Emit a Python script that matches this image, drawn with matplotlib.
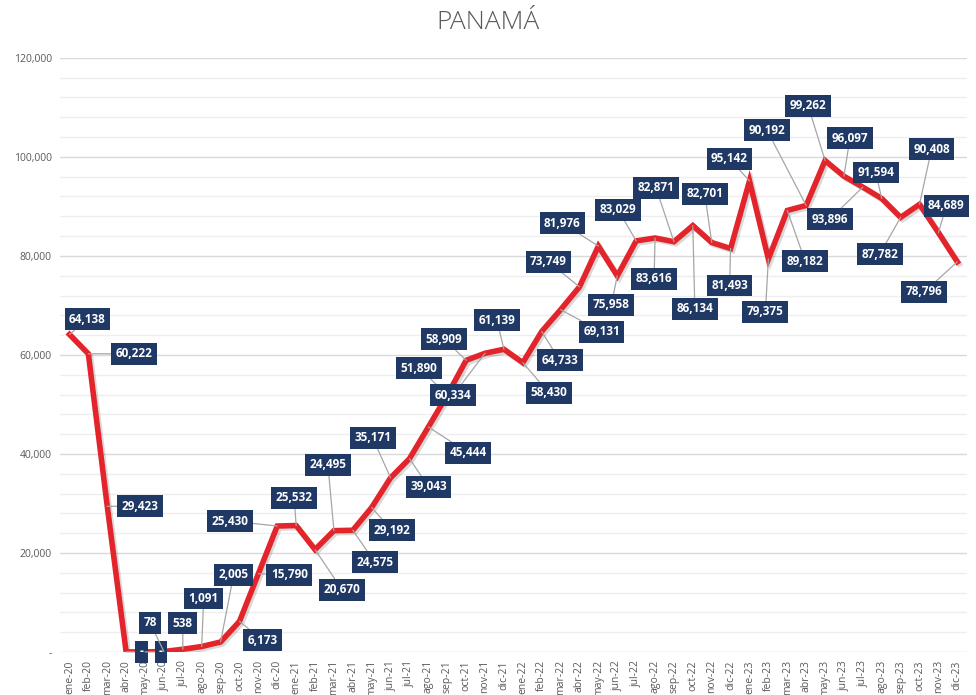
import matplotlib.pyplot as plt
import matplotlib.patheffects as pe
import numpy as np

# Datos mensuales
meses = ['ene', 'feb', 'mar', 'abr', 'may', 'jun', 'jul', 'ago', 'sep', 'oct', 'nov', 'dic']
anios = ['20', '21', '22', '23']
etiquetas = [f'{m}-{a}' for a in anios for m in meses]

valores_2020 = [64138, 60222, 29423, 0, 0, 78, 538, 1091, 2005, 6173, 15790, 25430]
valores_2021 = [25532, 20670, 24495, 24575, 29192, 35171, 39043, 45444, 51890, 58909, 60334, 61139]
valores_2022 = [58430, 64733, 69131, 73749, 81976, 75958, 83029, 83616, 82871, 86134, 82701, 81493]
valores_2023 = [95142, 79375, 89182, 90192, 99262, 96097, 93896, 91594, 87782, 90408, 84689, 78796]
valores = valores_2020 + valores_2021 + valores_2022 + valores_2023

# Desplazamiento de cada etiqueta respecto a su punto (pixeles)
offsets = [(18, 15), (46, 0), (33, 0), (15, 0), (16, 0), (-14, 29), (0, 26), (2, 48),
           (13, 67), (23, -19), (31, -1), (-47, 5), (-2, 28), (27, -40), (-6, 66), (22, -32),
           (20, -23), (-18, 40), (19, -28), (40, -26), (-28, 27), (-22, 21), (-32, -42), (-7, 29),
           (26, -30), (18, -29), (41, -22), (-31, 25), (-36, 23), (-6, -29), (-18, 31), (-1, -41),
           (-18, 54), (2, -83), (-7, 49), (-1, -37), (-20, 22), (-3, -53), (18, -51), (-39, 75),
           (-17, 55), (6, 38), (-33, -32), (-6, 26), (-21, -37), (12, 55), (8, 27), (-33, -30)]

x = np.arange(len(valores))

fig = plt.figure(figsize=(9.76, 6.95), dpi=100)
ax = fig.add_axes([0.0615, 0.062, 0.929, 0.8547])

# Rejilla
for y in range(0, 120001, 4000):
    color = '#d9d9d9' if y % 20000 == 0 else '#eeeeee'
    ax.axhline(y, color=color, lw=1, zorder=0)

ax.plot(x, valores, color='#e3242b', lw=4, solid_joinstyle='miter', zorder=3,
        path_effects=[pe.SimpleLineShadow(offset=(1.5, -1.5), shadow_color='#000000', alpha=0.15),
                      pe.Normal()])

# Etiquetas de datos
for xi, v, (dx, dy) in zip(x, valores, offsets):
    txt = '-' if v == 0 else f'{v:,}'
    ax.annotate(txt, xy=(xi, v), xytext=(dx, dy), textcoords='offset pixels',
                ha='center', va='center', color='white', fontsize=8.5, fontweight='bold',
                family='Open Sans', zorder=5,
                bbox=dict(boxstyle='square,pad=0.38', fc='#1f3864', ec='none'),
                arrowprops=dict(arrowstyle='-', color='#a6a6a6', lw=0.9,
                                shrinkA=0, shrinkB=0))

ax.set_xlim(-0.5, len(valores) - 0.5)
ax.set_ylim(0, 120000)
ax.set_xticks(x)
ax.set_xticklabels(etiquetas, rotation=90, fontsize=7.5, color='#595959', family='Open Sans')
ax.set_yticks(range(0, 120001, 20000))
ax.set_yticklabels(['-'] + [f'{v:,}' for v in range(20000, 120001, 20000)],
                   fontsize=7.5, color='#595959', family='Open Sans')
ax.tick_params(length=0, pad=6)
for s in ax.spines.values():
    s.set_visible(False)

fig.suptitle('PANAMÁ', y=0.985, fontsize=19, color='#595959', family='Open Sans', fontweight='light')

plt.savefig('out.png', dpi=100)
